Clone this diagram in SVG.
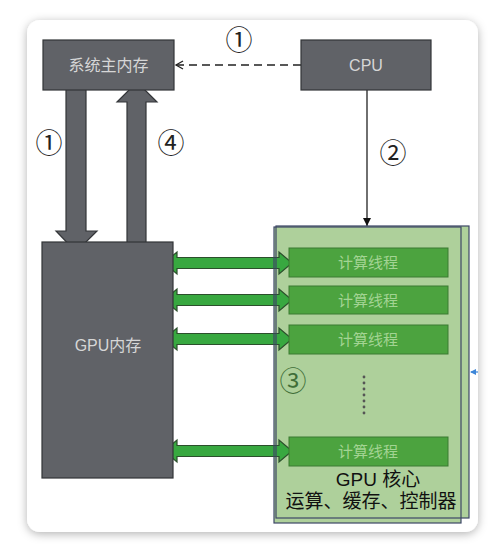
<svg xmlns="http://www.w3.org/2000/svg" width="500" height="553" viewBox="0 0 500 553">
<style>
.dark{fill:#606267;stroke:#333538;stroke-width:1.2}
.lbl{font-family:"Liberation Sans","Noto Sans CJK SC",sans-serif;fill:#d6d6d6;font-size:16px;text-anchor:middle}
.num{font-family:"Noto Sans CJK SC","DejaVu Sans",sans-serif;fill:#222;font-size:27px;text-anchor:middle}
.thr{fill:#4ca33f;stroke:#3a7a32;stroke-width:1}
.thrt{font-family:"Noto Sans CJK SC",sans-serif;fill:#a3d493;font-size:15px;text-anchor:middle}
.garrow{fill:#38a840;stroke:#2c4f2c;stroke-width:1.2;stroke-linejoin:miter}
.core{font-family:"Liberation Sans","Noto Sans CJK SC",sans-serif;fill:#111;font-size:19px;text-anchor:middle}
</style>
<defs>
<filter id="sh" x="-10%" y="-10%" width="120%" height="120%">
<feDropShadow dx="0" dy="2" stdDeviation="5" flood-color="#000" flood-opacity="0.3"/>
</filter>
<marker id="open" markerWidth="10" markerHeight="10" refX="8" refY="5" orient="auto" markerUnits="userSpaceOnUse">
<path d="M1,1 L8,5 L1,9" fill="none" stroke="#222" stroke-width="1.3"/>
</marker>
<marker id="tri" markerWidth="10" markerHeight="10" refX="9" refY="5" orient="auto" markerUnits="userSpaceOnUse">
<path d="M1,1 L9,5 L1,9 Z" fill="#111"/>
</marker>
<marker id="blue" markerWidth="6" markerHeight="6" refX="5" refY="3" orient="auto" markerUnits="userSpaceOnUse">
<path d="M0,0 L6,3 L0,6 Z" fill="#3d86d8"/>
</marker>
<polygon id="ga" class="garrow" points="164,0 177,-11 177,-5.5 279,-5.5 279,-11 292,0 279,11 279,5.5 177,5.5 177,11"/>
</defs>
<rect width="500" height="553" fill="#ffffff"/>
<rect x="27" y="20" width="451" height="512" rx="13" fill="#ffffff" filter="url(#sh)"/>

<g id="gpu-core-panel">
<rect x="274" y="227" width="187" height="296" fill="#aed09b"/>
<rect x="276" y="226" width="193" height="292" fill="#aed09b"/>
</g>

<g id="connectors">
<line x1="301" y1="65" x2="176" y2="65" stroke="#222" stroke-width="1.6" stroke-dasharray="8,5" marker-end="url(#open)"/>
<line x1="367" y1="90" x2="367" y2="226" stroke="#222" stroke-width="1.3" marker-end="url(#tri)"/>
<polygon class="dark" points="66,84 86,84 86,231 97,231 76,252 56,231 66,231"/>
<polygon class="dark" points="127,250 146,250 146,102 157,102 137,82 117,102 127,102"/>
<use href="#ga" y="263"/>
<use href="#ga" y="300"/>
<use href="#ga" y="339"/>
<use href="#ga" y="451"/>
<line x1="478" y1="372" x2="471" y2="372" stroke="#3d86d8" stroke-width="1.2" marker-end="url(#blue)"/>
</g>

<g id="gpu-core-outline">
<rect x="274" y="227" width="187" height="296" fill="none" stroke="#3d4766" stroke-width="1.2"/>
<rect x="276" y="226" width="193" height="292" fill="none" stroke="#3d4766" stroke-width="1.2"/>
</g>

<g id="sys-mem">
<rect class="dark" x="43" y="40" width="131" height="50"/>
<text class="lbl" x="108.5" y="71">系统主内存</text>
</g>
<g id="cpu">
<rect class="dark" x="301" y="40" width="130" height="50"/>
<text class="lbl" x="366" y="71">CPU</text>
</g>
<g id="gpu-mem">
<rect class="dark" x="42" y="242" width="131" height="236"/>
<text class="lbl" x="108" y="351">GPU内存</text>
</g>

<g id="thread1"><rect class="thr" x="289" y="248" width="159" height="29"/><text class="thrt" x="368" y="268">计算线程</text></g>
<g id="thread2"><rect class="thr" x="289" y="286" width="159" height="28"/><text class="thrt" x="368" y="305.5">计算线程</text></g>
<g id="thread3"><rect class="thr" x="289" y="325" width="159" height="29"/><text class="thrt" x="368" y="345">计算线程</text></g>
<g id="thread4"><rect class="thr" x="289" y="437" width="159" height="29"/><text class="thrt" x="368" y="457">计算线程</text></g>

<g id="dots" fill="#555">
<circle cx="364" cy="377" r="1.4"/><circle cx="364" cy="383" r="1.4"/><circle cx="364" cy="389" r="1.4"/><circle cx="364" cy="395" r="1.4"/><circle cx="364" cy="401" r="1.4"/><circle cx="364" cy="407" r="1.4"/><circle cx="364" cy="413" r="1.4"/>
</g>

<g id="labels">
<text class="num" x="239" y="50">①</text>
<text class="num" x="49" y="153">①</text>
<text class="num" x="171" y="153">④</text>
<text class="num" x="393" y="163">②</text>
<text class="num" x="293" y="391" style="fill:#3f6e38">③</text>
<text class="core" x="378" y="486">GPU 核心</text>
<text class="core" x="371" y="508">运算、缓存、控制器</text>
</g>
</svg>
